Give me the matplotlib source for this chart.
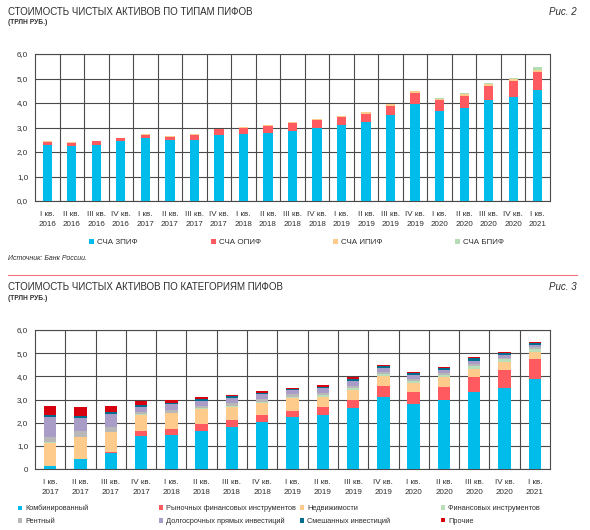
import matplotlib
matplotlib.use("Agg")
import matplotlib.pyplot as plt
from matplotlib.patches import Patch
from matplotlib.lines import Line2D
import numpy as np

plt.rcParams['font.family'] = ['Liberation Sans Narrow', 'Liberation Sans', 'DejaVu Sans']

# --- Рис. 2: СЧА по типам ПИФов (трлн руб.) ---
quarters_top = ['I', 'II', 'III', 'IV'] * 5 + ['I']
years_top = ['2016'] * 4 + ['2017'] * 4 + ['2018'] * 4 + ['2019'] * 4 + ['2020'] * 4 + ['2021']
zpif = [2.29, 2.26, 2.29, 2.43, 2.56, 2.47, 2.51, 2.70, 2.74, 2.78, 2.85,
        3.00, 3.11, 3.23, 3.51, 3.97, 3.66, 3.78, 4.11, 4.23, 4.54]
opif = [0.12, 0.11, 0.14, 0.13, 0.14, 0.16, 0.18, 0.22, 0.26, 0.30, 0.33,
        0.32, 0.31, 0.34, 0.38, 0.44, 0.45, 0.52, 0.60, 0.65, 0.73]
ipif = [0.02, 0.02, 0.02, 0.02, 0.03, 0.03, 0.03, 0.03, 0.03, 0.03, 0.03,
        0.04, 0.05, 0.06, 0.07, 0.06, 0.06, 0.07, 0.07, 0.08, 0.09]
bpif = [0, 0, 0, 0, 0, 0, 0, 0, 0, 0, 0,
        0, 0, 0, 0.01, 0.02, 0.02, 0.02, 0.04, 0.05, 0.10]
top_names = ['СЧА ЗПИФ', 'СЧА ОПИФ', 'СЧА ИПИФ', 'СЧА БПИФ']

# --- Рис. 3: СЧА по категориям ПИФов (трлн руб.) ---
quarters_bot = ['I', 'II', 'III', 'IV'] * 4 + ['I']
years_bot = ['2017'] * 4 + ['2018'] * 4 + ['2019'] * 4 + ['2020'] * 4 + ['2021']
comb = [0.14, 0.43, 0.68, 1.44, 1.47, 1.66, 1.80, 2.01, 2.23, 2.33, 2.63, 3.09, 2.80, 2.97, 3.32, 3.51, 3.87]
market = [0.01, 0.01, 0.06, 0.20, 0.26, 0.30, 0.30, 0.34, 0.28, 0.34, 0.37, 0.49, 0.52, 0.58, 0.67, 0.78, 0.88]
realty = [0.98, 0.94, 0.84, 0.69, 0.67, 0.63, 0.58, 0.51, 0.56, 0.45, 0.43, 0.43, 0.40, 0.41, 0.34, 0.33, 0.32]
fin = [0.02, 0.02, 0.02, 0.03, 0.03, 0.04, 0.05, 0.05, 0.05, 0.06, 0.07, 0.08, 0.08, 0.09, 0.11, 0.11, 0.12]
rent = [0.25, 0.22, 0.20, 0.11, 0.11, 0.10, 0.12, 0.11, 0.10, 0.10, 0.10, 0.10, 0.10, 0.09, 0.09, 0.08, 0.07]
direct = [0.85, 0.58, 0.58, 0.22, 0.25, 0.22, 0.22, 0.21, 0.18, 0.20, 0.20, 0.16, 0.16, 0.15, 0.15, 0.12, 0.11]
mixed = [0.07, 0.07, 0.06, 0.08, 0.08, 0.06, 0.07, 0.07, 0.06, 0.08, 0.10, 0.09, 0.09, 0.08, 0.10, 0.08, 0.07]
other = [0.40, 0.40, 0.30, 0.16, 0.13, 0.10, 0.07, 0.06, 0.05, 0.06, 0.06, 0.05, 0.05, 0.05, 0.05, 0.05, 0.05]
bot_names = ['Комбинированный', 'Рыночных финансовых инструментов', 'Недвижимости',
             'Финансовых инструментов', 'Рентный', 'Долгосрочных прямых инвестиций',
             'Смешанных инвестиций', 'Прочие']

top_colors = ['#00BCEB', '#FF5A60', '#FFCB8C', '#B5DDB5']
bot_colors = ['#00BCEB', '#FF5A60', '#FFCB8C', '#B9DEB9', '#B8B8B8', '#A99DC8', '#006C8E', '#D7000F']

W, H = 590, 530
fig = plt.figure(figsize=(W / 100, H / 100), dpi=100)
txt = '#2e2e2e'


def px(x, y):
    return x / W, 1 - y / H


def stacked(ax, series, colors, labels_q, labels_y, ylabels, width):
    n = len(series[0])
    x = np.arange(n)
    bottom = np.zeros(n)
    for vals, c in zip(series, colors):
        ax.bar(x, vals, width, bottom=bottom, color=c, zorder=3, linewidth=0)
        bottom += np.array(vals)
    ax.set_xlim(-0.5, n - 0.5)
    ax.set_ylim(0, 6)
    ax.set_yticks(range(0, 7))
    ax.set_yticklabels(ylabels, fontsize=5.8, color=txt)
    ax.set_xticks(x)
    ax.set_xticklabels([f'{q} кв.\n{y}' for q, y in zip(labels_q, labels_y)],
                       fontsize=5.8, color=txt, linespacing=1.6)
    ax.set_xticks(np.arange(0.5, n - 0.5), minor=True)
    ax.tick_params(which='both', length=0, pad=7)
    ax.tick_params(axis='y', pad=5)
    ax.grid(True, which='major', axis='y', color='#4a4a4a', lw=0.8, zorder=1)
    ax.grid(True, which='minor', axis='x', color='#4a4a4a', lw=0.8, zorder=1)
    for s in ax.spines.values():
        s.set_color('#4a4a4a')
        s.set_linewidth(0.8)


def legend_column(names, colors, x, y, size=5.8):
    handles = [Patch(facecolor=c, edgecolor='none') for c in colors]
    lx, ly = px(x, y)
    fig.legend(handles, names, loc='upper left', bbox_to_anchor=(lx, ly),
               frameon=False, fontsize=size, handlelength=0.6, handleheight=0.6,
               handletextpad=0.4, labelspacing=0.75, labelcolor=txt,
               borderpad=0, borderaxespad=0)


# top chart
x0, y0 = px(35, 201)
x1, y1 = px(550, 54)
ax1 = fig.add_axes([x0, y0, x1 - x0, y1 - y0])
stacked(ax1, [zpif, opif, ipif, bpif], top_colors, quarters_top, years_top,
        [f'{v},0' for v in range(7)], 0.38)

fig.text(*px(8, 12), 'СТОИМОСТЬ ЧИСТЫХ АКТИВОВ ПО ТИПАМ ПИФОВ', fontsize=7,
         color=txt, va='center', ha='left')
fig.text(*px(8, 23), '(ТРЛН РУБ.)', fontsize=4.8, color=txt, va='center', ha='left', weight='bold')
fig.text(*px(577, 12), 'Рис. 2', fontsize=7, color=txt, va='center', ha='right', style='italic')

for j in range(4):
    legend_column([top_names[j]], [top_colors[j]], 89 + 122 * j, 239)

fig.text(*px(8, 259), 'Источник: Банк России.', fontsize=5, color=txt, va='center',
         ha='left', style='italic')

fig.add_artist(Line2D([8 / W, 577 / W], [1 - 275 / H] * 2, color='#F27080', lw=0.8))

# bottom chart
x0, y0 = px(35, 469)
x1, y1 = px(550, 330)
ax2 = fig.add_axes([x0, y0, x1 - x0, y1 - y0])
stacked(ax2, [comb, market, realty, fin, rent, direct, mixed, other], bot_colors,
        quarters_bot, years_bot, ['0'] + [f'{v},0' for v in range(1, 7)], 0.41)

fig.text(*px(8, 287), 'СТОИМОСТЬ ЧИСТЫХ АКТИВОВ ПО КАТЕГОРИЯМ ПИФОВ', fontsize=7,
         color=txt, va='center', ha='left')
fig.text(*px(8, 298), '(ТРЛН РУБ.)', fontsize=4.8, color=txt, va='center', ha='left', weight='bold')
fig.text(*px(577, 287), 'Рис. 3', fontsize=7, color=txt, va='center', ha='right', style='italic')

# legend: 4 columns, read row by row
for j in range(4):
    legend_column([bot_names[j], bot_names[j + 4]], [bot_colors[j], bot_colors[j + 4]],
                  18 + 141 * j, 505, size=5.3)

fig.savefig('out.png', dpi=100)
